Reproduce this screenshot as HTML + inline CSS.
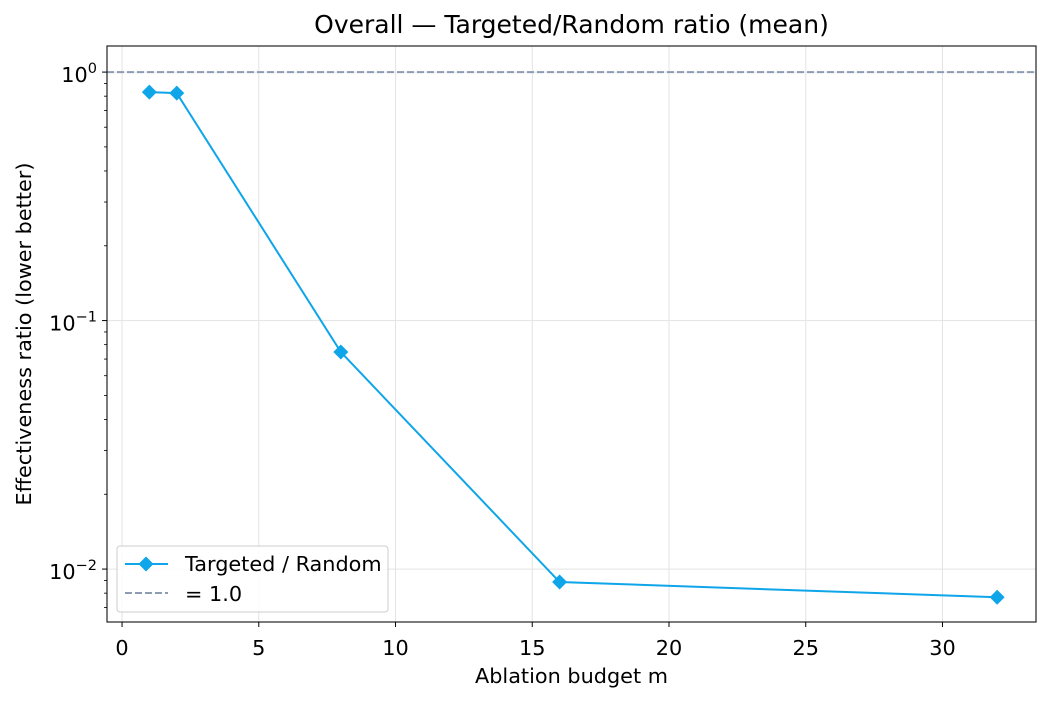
<!DOCTYPE html>
<html><head><meta charset="utf-8"><style>
body{margin:0;background:#fff;}
svg{display:block;font-family:"DejaVu Sans","Liberation Sans",sans-serif;}
</style></head><body>
<svg id="chart" width="1051" height="701" viewBox="0 0 1051 701"></svg>
<script>
const budgets=[1,2,8,16,32];
const ratios=[0.831,0.823,0.0747,0.00887,0.0077];
const xTicks=[0,5,10,15,20,25,30];
const yTickExps=[0,-1,-2];
const refValue=1.0;

const L=107,R=1036,T=46,B=622;
const xMin=-0.55,xMax=33.42,lMin=-2.213,lMax=0.105;
const xs=v=>L+(v-xMin)/(xMax-xMin)*(R-L);
const ys=v=>B-(Math.log10(v)-lMin)/(lMax-lMin)*(B-T);
const svg=document.getElementById('chart');
const NS='http://www.w3.org/2000/svg';
function mk(tag,attrs,parent){const e=document.createElementNS(NS,tag);for(const k in attrs)e.setAttribute(k,attrs[k]);(parent||svg).appendChild(e);return e;}

xTicks.forEach(t=>{const g=mk('line',{x1:xs(t),x2:xs(t),y1:T,y2:B,stroke:'#e3e3e3','stroke-width':1});

});
yTickExps.forEach(e=>{const g=mk('line',{x1:L,x2:R,y1:ys(Math.pow(10,e)),y2:ys(Math.pow(10,e)),stroke:'#e3e3e3','stroke-width':1});

});

const rl=mk('line',{x1:L,x2:R,y1:ys(refValue),y2:ys(refValue),stroke:'#8d9bb3','stroke-width':2,'stroke-dasharray':'7,3'});



const pts=budgets.map((b,i)=>xs(b)+','+ys(ratios[i])).join(' ');
const pl=mk('polyline',{points:pts,fill:'none',stroke:'#0ea5e9','stroke-width':2});


budgets.forEach((b,i)=>{const x=xs(b),y=ys(ratios[i]),s=7.5;
const m=mk('polygon',{points:`${x},${y-s} ${x+s},${y} ${x},${y+s} ${x-s},${y}`,fill:'#0ea5e9'});

});

const fr=mk('rect',{x:L,y:T,width:R-L,height:B-T,fill:'none',stroke:'#222','stroke-width':1.2});



xTicks.forEach(t=>{const x=xs(t);
const tk=mk('line',{x1:x,x2:x,y1:B,y2:B+5,stroke:'#000'});


const tx=mk('text',{x:x,y:B+33,'text-anchor':'middle','font-size':20.8});tx.textContent=t;

});

yTickExps.forEach(e=>{const y=ys(Math.pow(10,e));
const tk=mk('line',{x1:L-5,x2:L,y1:y,y2:y,stroke:'#000'});


const tx=mk('text',{x:L-10,y:y+10,'text-anchor':'end','font-size':20.8});
tx.innerHTML='10<tspan dy="-9" font-size="14.5">'+(e===0?'0':'\u2212'+(-e))+'</tspan>';

});
for(let e=-3;e<=0;e++)for(let k=2;k<=9;k++){const v=k*Math.pow(10,e);const l=Math.log10(v);if(l<lMin||l>lMax)continue;
const y=ys(v);const mt=mk('line',{x1:L-3,x2:L,y1:y,y2:y,stroke:'#000','stroke-width':0.8});

}

const ti=mk('text',{x:(L+R)/2,y:33,'text-anchor':'middle','font-size':25});ti.textContent='Overall \u2014 Targeted/Random ratio (mean)';


const xt=mk('text',{x:(L+R)/2,y:683,'text-anchor':'middle','font-size':20.8});xt.textContent='Ablation budget m';


const yt=mk('text',{x:0,y:0,'text-anchor':'middle','font-size':20.8,transform:`translate(31,${(T+B)/2}) rotate(-90)`});yt.textContent='Effectiveness ratio (lower better)';



const lg=mk('g',{});


mk('rect',{x:117,y:546,width:271,height:66,rx:3,fill:'#fff','fill-opacity':0.85,stroke:'#ccc'},lg);
mk('line',{x1:125,x2:168,y1:564,y2:564,stroke:'#0ea5e9','stroke-width':2},lg);
mk('polygon',{points:'146,556.5 153.5,564 146,571.5 138.5,564',fill:'#0ea5e9'},lg);
const l1=mk('text',{x:185,y:571,'font-size':20.8},lg);l1.textContent='Targeted / Random';


mk('line',{x1:125,x2:168,y1:593,y2:593,stroke:'#8d9bb3','stroke-width':2,'stroke-dasharray':'7,3'},lg);
const l2=mk('text',{x:185,y:601,'font-size':20.8},lg);l2.textContent='= 1.0';


</script>
</body></html>
